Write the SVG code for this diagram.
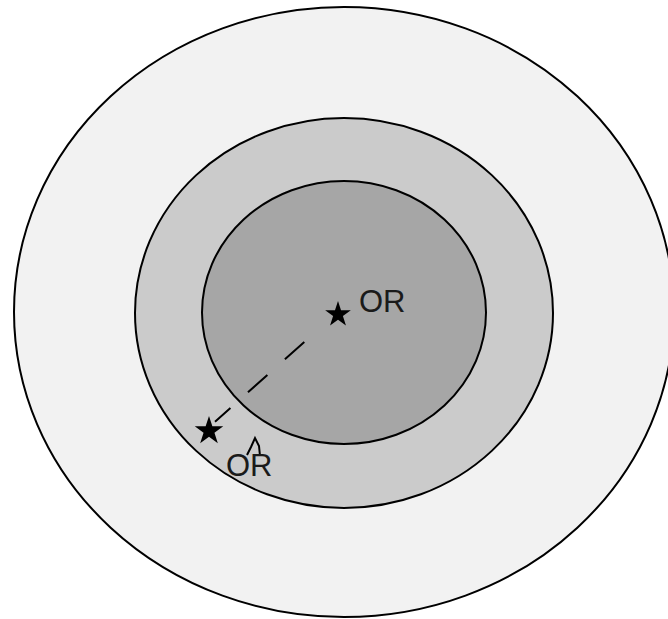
<svg xmlns="http://www.w3.org/2000/svg" width="668" height="619" viewBox="0 0 668 619">
<defs>
<style>
.ring{stroke:#000;stroke-width:2}
.lbl{font-family:"Liberation Sans",Arial,sans-serif;font-size:31px;fill:#1a1a1a}
.star{fill:#000}
.conn{stroke:#000;stroke-width:2;fill:none}
</style>
<path id="st" d="M0,-1 L0.2245,-0.309 L0.9511,-0.309 L0.3633,0.118 L0.5878,0.809 L0,0.382 L-0.5878,0.809 L-0.3633,0.118 L-0.9511,-0.309 L-0.2245,-0.309 Z"/>
</defs>
<rect width="668" height="619" fill="#fff"/>
<g id="outer"><ellipse class="ring" cx="344" cy="312" rx="330" ry="305" fill="#f2f2f2"/></g>
<g id="middle"><ellipse class="ring" cx="344" cy="313" rx="209" ry="195" fill="#cbcbcb"/></g>
<g id="inner"><ellipse class="ring" cx="344" cy="312.5" rx="142" ry="131.5" fill="#a6a6a6"/></g>
<g id="connectors">
<line class="conn" x1="304.3" y1="342" x2="215" y2="421.7" stroke-dasharray="26 23.5"/>
<path class="conn" stroke-width="1.5" d="M247,455 L251,447 L255,438 L259,446 L260,456"/>
</g>
<g id="center-point">
<use href="#st" class="star" transform="translate(338,314.5) scale(13.5)"/>
<text class="lbl" x="359" y="311.5">OR</text>
</g>
<g id="edge-point">
<use href="#st" class="star" transform="translate(209,431) scale(15)"/>
<text class="lbl" x="226" y="476">OR</text>
</g>
</svg>
